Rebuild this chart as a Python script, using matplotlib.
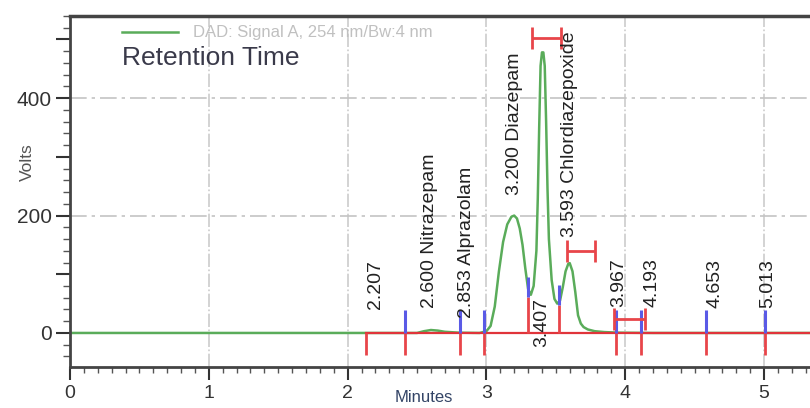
import matplotlib
matplotlib.use("Agg")
import matplotlib.pyplot as plt
from matplotlib.ticker import MultipleLocator, FuncFormatter
from matplotlib.lines import Line2D
from matplotlib import font_manager

# ---------------- data ----------------
trace_t = [0, 2.5, 2.55, 2.6, 2.65, 2.7, 2.8, 2.95, 3.0, 3.03, 3.06, 3.09, 3.12, 3.15, 3.18,
           3.20, 3.22, 3.24, 3.26, 3.28, 3.30, 3.32, 3.34, 3.36, 3.37, 3.38, 3.39, 3.40,
           3.41, 3.42, 3.43, 3.44, 3.45, 3.47, 3.49, 3.51, 3.53, 3.55, 3.57, 3.59, 3.60,
           3.62, 3.64, 3.66, 3.68, 3.70, 3.73, 3.78, 3.85, 3.95, 4.2, 5.4]
trace_v = [0, 0, 3, 5, 4, 2, 0.5, 0, 3, 12, 45, 105, 155, 185, 198,
           200, 195, 178, 150, 110, 75, 65, 80, 140, 230, 350, 455, 478,
           478, 455, 360, 245, 160, 90, 58, 50, 55, 78, 105, 118, 119,
           105, 70, 30, 16, 10, 6, 3, 1.5, 0.5, 0, 0]

baseline_start = 2.13
blue_pos = [2.41, 2.81, 2.98, 3.30, 3.52, 3.93, 4.11, 4.58, 5.01]
blue_bottom = [0, 0, 0, 61, 48, 0, 0, 0, 0]
blue_top = [39, 39, 39, 95, 82, 39, 39, 39, 39]
red_drop_pos = [2.13, 2.41, 2.81, 2.98, 3.93, 4.11, 4.58, 5.01]
red_drop_depth = -37
red_up_pos = [3.30, 3.52]
red_up_top = [61, 48]

err_x = [3.435, 3.68, 4.03]
err_y = [503, 140, 24]
err_half = [0.105, 0.10, 0.11]

label_text = ["2.207", "2.600 Nitrazepam", "2.853 Alprazolam", "3.200 Diazepam", "3.407",
              "3.593 Chlordiazepoxide", "3.967", "4.193", "4.653", "5.013"]
label_x = [2.20, 2.59, 2.86, 3.20, 3.40, 3.60, 3.95, 4.19, 4.65, 5.03]
label_y = [40, 43, 25, 235, -24, 163, 44, 44, 43, 43]

grid_x = [1, 2, 3, 4, 5]
grid_y = [200, 400]
x_ticks = [0, 1, 2, 3, 4, 5]

# ---------------- fonts ----------------
names = {f.name for f in font_manager.fontManager.ttflist}
plt.rcParams['font.family'] = ['Liberation Sans', 'DejaVu Sans']
if 'Liberation Sans Narrow' in names:
    peak_font = ['Liberation Sans Narrow', 'DejaVu Sans']
    peak_size = 16.5
else:
    peak_font = ['Liberation Sans', 'DejaVu Sans']
    peak_size = 14

# ---------------- figure ----------------
fig = plt.figure(figsize=(8.10, 4.08), dpi=100)
ax = fig.add_axes([70 / 810, 1 - 367 / 408, 1 - 70 / 810, (367 - 16) / 408])
ax.set_xlim(0, 5.331)
ax.set_ylim(-58, 540)

for gx in grid_x:
    ax.axvline(gx, color='#cccccc', lw=1.2, ls=(0, (8, 1.5, 1, 1.5)), zorder=0)
for gy in grid_y:
    ax.axhline(gy, color='#c4c4c4', lw=1.2, ls=(0, (10, 3, 2, 3)), zorder=0)

ax.plot(trace_t, trace_v, color='#5aac5a', lw=1.8, zorder=2)

# red baseline
ax.plot([baseline_start, 5.331], [0, 0], color='#e0343a', lw=1.6, zorder=3)
ax.vlines(red_drop_pos, red_drop_depth, 0, color='#e8454a', lw=2.0, zorder=3)
ax.vlines(red_up_pos, 0, red_up_top, color='#e8454a', lw=2.0, zorder=3)
ax.vlines(blue_pos, blue_bottom, blue_top, color='#5a5ae6', lw=2.2, zorder=4)

ax.errorbar(err_x, err_y, xerr=err_half, fmt='none', ecolor='#e8454a',
            elinewidth=2.0, capsize=8, capthick=2.0, zorder=4)

for t, x, y in zip(label_text, label_x, label_y):
    ax.text(x, y, t, rotation=90, ha='center', va='bottom', fontsize=peak_size,
            family=peak_font, color='#222222', zorder=5)

# ticks
ax.set_xticks(x_ticks)
ax.xaxis.set_minor_locator(MultipleLocator(0.1))
ax.yaxis.set_major_locator(MultipleLocator(100))
ax.yaxis.set_minor_locator(MultipleLocator(20))
ax.yaxis.set_major_formatter(FuncFormatter(lambda v, p: f"{int(v)}" if int(round(v)) % 200 == 0 else ""))
ax.tick_params(axis='x', which='major', length=9, width=1.5, color='#333333',
               labelsize=14, labelcolor='#333333', pad=4)
ax.tick_params(axis='x', which='minor', length=4, width=1, color='#555555')
ax.tick_params(axis='y', which='major', length=10, width=1.5, color='#333333',
               labelsize=15, labelcolor='#333333', pad=3)
ax.tick_params(axis='y', which='minor', length=5, width=1, color='#555555')

for s in ['top', 'left', 'bottom']:
    ax.spines[s].set_color('#444444')
ax.spines['top'].set_linewidth(2.5)
ax.spines['left'].set_linewidth(2.0)
ax.spines['bottom'].set_linewidth(2.0)
ax.spines['right'].set_visible(False)

# axis labels
fig.text(27 / 810, 1 - 162 / 408, "Volts", rotation=90, ha='center', va='center',
         fontsize=12.5, color='#555555')
fig.text(424 / 810, 1 - 397 / 408, "Minutes", ha='center', va='center',
         fontsize=12, color='#334466')

# legend-like header
fig.add_artist(Line2D([122 / 810, 178 / 810], [1 - 32 / 408, 1 - 32 / 408],
                      color='#5aac5a', lw=1.8, transform=fig.transFigure))
fig.text(193 / 810, 1 - 32 / 408, "DAD: Signal A, 254 nm/Bw:4 nm", ha='left', va='center',
         fontsize=12, color='#c0c0c0')
fig.text(122 / 810, 1 - 58 / 408, "Retention Time", ha='left', va='center',
         fontsize=19, color='#3a3a4a')

fig.savefig("out.png", dpi=100)
